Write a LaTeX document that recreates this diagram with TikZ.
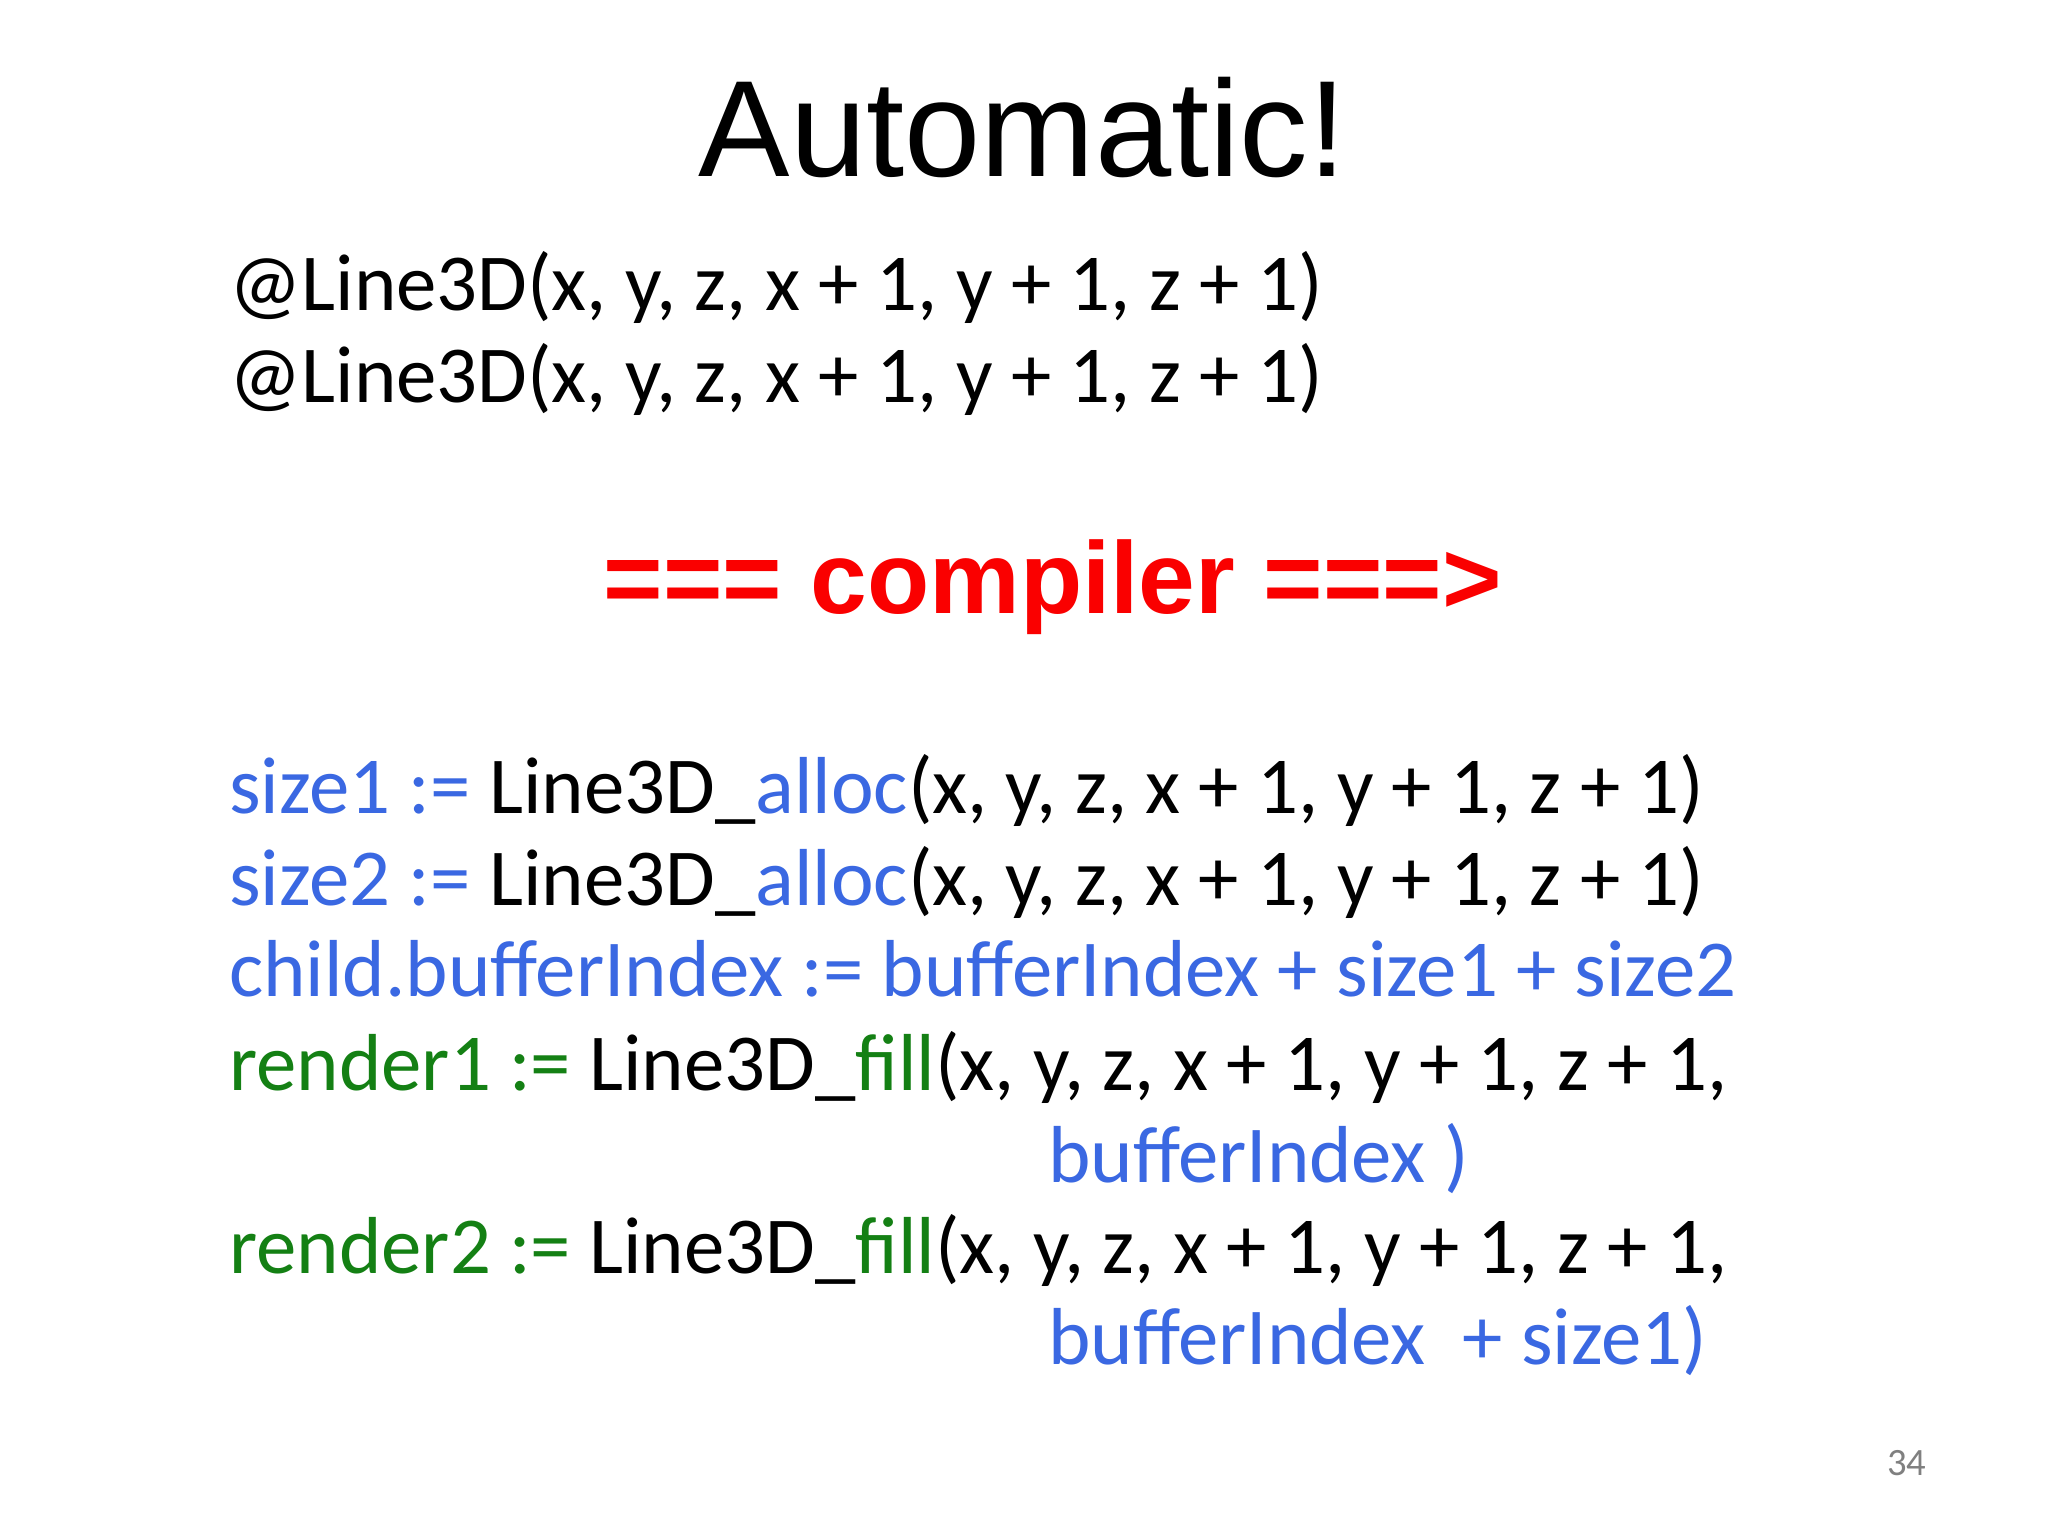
\documentclass[tikz,border=0pt]{standalone}
\usepackage{fontspec}
\setmainfont{Carlito}
\newfontfamily\arialf{Liberation Sans}
\definecolor{cblue}{RGB}{58,104,226}
\definecolor{cgreen}{RGB}{20,128,20}
\definecolor{cred}{RGB}{250,0,0}
\begin{document}
\begin{tikzpicture}[x=0.01306cm,y=-0.01306cm,
  code/.style={anchor=base west,inner sep=0,font=\fontsize{23}{23}\selectfont}]
\useasboundingbox (0,0) rectangle (1568,1176);
\fill[white] (0,0) rectangle (1568,1176);
\node[anchor=base,inner sep=0,font=\arialf\fontsize{39}{39}\selectfont] (title) at (783,135) {Automatic!};
\node[code] (l1) at (175,238) {@Line3D(x, y, z, x + 1, y + 1, z + 1)};
\node[code] (l2) at (175,308) {@Line3D(x, y, z, x + 1, y + 1, z + 1)};
\node[anchor=base,inner sep=0,text=cred,font=\arialf\bfseries\fontsize{29}{29}\selectfont] (comp) at (806,470) {=== compiler ===>};
\node[code] (a1) at (175,623) {\textcolor{cblue}{size1 :=} Line3D\_\textcolor{cblue}{alloc}(x, y, z, x + 1, y + 1, z + 1)};
\node[code] (a2) at (175,693) {\textcolor{cblue}{size2 :=} Line3D\_\textcolor{cblue}{alloc}(x, y, z, x + 1, y + 1, z + 1)};
\node[code,text=cblue] (a3) at (175,763) {child.bufferIndex := bufferIndex + size1 + size2};
\node[code] (a4) at (175,835) {\textcolor{cgreen}{render1 :=} Line3D\_\textcolor{cgreen}{fill}(x, y, z, x + 1, y + 1, z + 1,};
\node[code,text=cblue] (a5) at (802,905) {bufferIndex )};
\node[code] (a6) at (175,975) {\textcolor{cgreen}{render2 :=} Line3D\_\textcolor{cgreen}{fill}(x, y, z, x + 1, y + 1, z + 1,};
\node[code,text=cblue] (a7) at (802,1045) {bufferIndex \ + size1)};
\node[anchor=base,inner sep=0,text=gray,font=\fontsize{11}{11}\selectfont] (pg) at (1460,1130) {34};
\end{tikzpicture}
\end{document}
